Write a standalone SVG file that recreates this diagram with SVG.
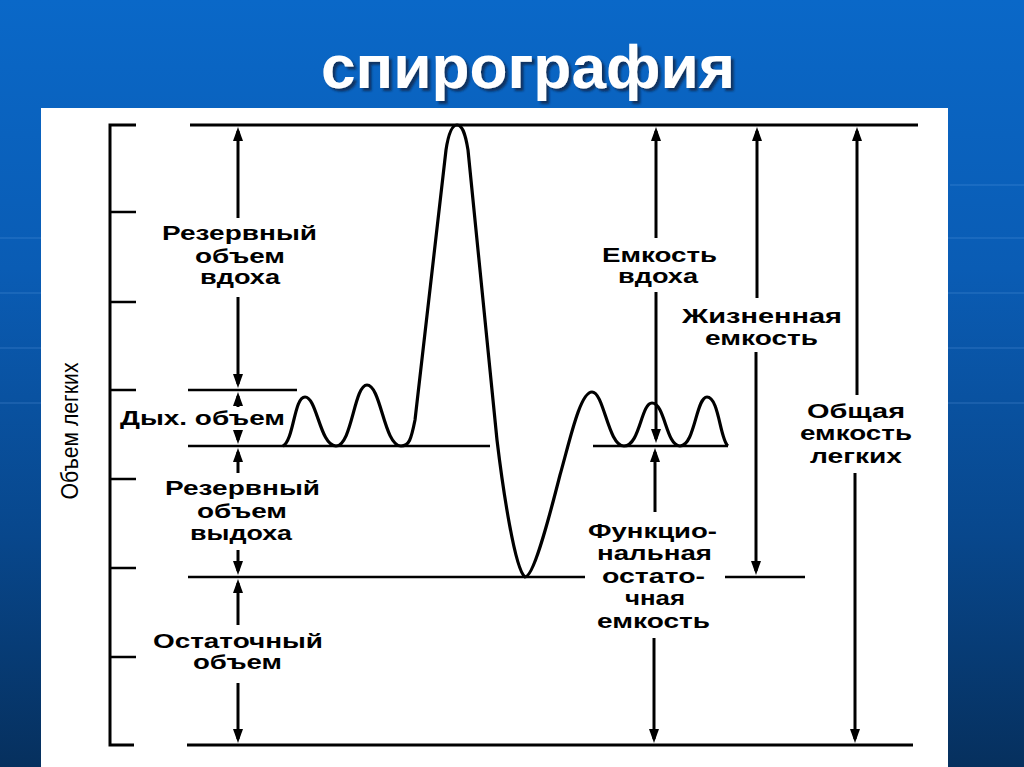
<svg xmlns="http://www.w3.org/2000/svg" width="1024" height="767" viewBox="0 0 1024 767">
<defs>
<linearGradient id="bg" x1="0" y1="0" x2="0" y2="1">
<stop offset="0" stop-color="#0a68c8"/>
<stop offset="0.35" stop-color="#0a5cb4"/>
<stop offset="0.7" stop-color="#08478c"/>
<stop offset="1" stop-color="#06305e"/>
</linearGradient>
<filter id="shadow" x="-5%" y="-20%" width="110%" height="140%">
<feDropShadow dx="3" dy="3" stdDeviation="1" flood-color="#0b2340" flood-opacity="0.75"/>
</filter>
<marker id="ah" viewBox="0 0 14 10" refX="10" refY="5" markerWidth="14" markerHeight="10" markerUnits="userSpaceOnUse" orient="auto">
<path d="M0,0 L14,5 L0,10 z" fill="#000"/>
</marker>
<style>
.lbl{font-family:"Liberation Sans",Arial,sans-serif;font-weight:bold;font-size:20px;fill:#000}
.ax{font-family:"Liberation Sans",Arial,sans-serif;font-size:23px;fill:#000}
.ln{stroke:#000;stroke-width:2.5;fill:none}
.ar{stroke:#000;stroke-width:3;fill:none;marker-end:url(#ah)}
.bgl{stroke:#6fa8e8;stroke-width:1.5;opacity:0.22}
</style>
</defs>
<rect x="0" y="0" width="1024" height="767" fill="url(#bg)"/>
<g id="bg-lines">
<line class="bgl" x1="0" y1="238" x2="1024" y2="238"/>
<line class="bgl" x1="0" y1="293" x2="1024" y2="293"/>
<line class="bgl" x1="0" y1="348" x2="1024" y2="348"/>
<line class="bgl" x1="0" y1="403" x2="1024" y2="403"/>
<line class="bgl" x1="950" y1="185" x2="1024" y2="185"/>
</g>
<g id="title">
<text x="528" y="88" text-anchor="middle" textLength="414" lengthAdjust="spacingAndGlyphs" filter="url(#shadow)" style="font-family:'Liberation Sans',Arial,sans-serif;font-weight:bold;font-size:62px;fill:#ffffff">спирография</text>
</g>
<rect id="panel" x="41" y="108" width="907" height="659" fill="#ffffff"/>
<g id="axis">
<path class="ln" style="stroke-width:3" d="M136,125 H110 V745 H134"/>
<path class="ln" d="M110,212 H136 M110,302 H136 M110,390 H136 M110,479 H136 M110,568 H136 M110,657 H136"/>
<text class="ax" transform="translate(78,431) rotate(-90)" text-anchor="middle" textLength="137" lengthAdjust="spacingAndGlyphs">Объем легких</text>
</g>
<g id="levels">
<line class="ln" style="stroke-width:3" x1="190" y1="125" x2="918" y2="125"/>
<line class="ln" x1="188" y1="390" x2="297" y2="390"/>
<line class="ln" x1="188" y1="446" x2="490" y2="446"/>
<line class="ln" x1="593" y1="446" x2="728" y2="446"/>
<line class="ln" x1="188" y1="577" x2="585" y2="577"/>
<line class="ln" x1="725" y1="577" x2="805" y2="577"/>
<line class="ln" style="stroke-width:3" x1="187" y1="745" x2="913" y2="745"/>
</g>
<g id="spirogram">
<path class="ln" style="stroke-width:3.2" d="M283,446 C294,440 294,397 305,397 C317,397 320,446 336,446 C352,446 354,385 367,385 C381,385 384,446 401,446 C409,446 411,440 415,420 L446,150 C449,130 453,125 457,125 C462,125 465,132 468,150 L497,440 C503,490 515,570 525,577 C533,577 546,530 560,475 C570,440 580,392 592,392 C604,392 608,446 624,446 C640,446 641,403 652,403 C665,403 666,446 680,446 C695,446 696,397 707,397 C719,397 720,440 728,446"/>
</g>
<g id="connectors">
<line class="ar" x1="238" y1="218" x2="238" y2="131"/>
<line class="ar" x1="238" y1="297" x2="238" y2="384"/>
<line class="ar" x1="238" y1="407" x2="238" y2="396"/>
<line class="ar" x1="238" y1="430" x2="238" y2="440"/>
<line class="ar" x1="238" y1="473" x2="238" y2="452"/>
<line class="ar" x1="238" y1="550" x2="238" y2="571"/>
<line class="ar" x1="238" y1="625" x2="238" y2="583"/>
<line class="ar" x1="238" y1="683" x2="238" y2="739"/>
<line class="ar" x1="656" y1="238" x2="656" y2="131"/>
<line class="ar" x1="656" y1="292" x2="656" y2="439"/>
<line class="ar" x1="655" y1="512" x2="655" y2="452"/>
<line class="ar" x1="654" y1="638" x2="654" y2="739"/>
<line class="ar" x1="757" y1="298" x2="757" y2="131"/>
<line class="ar" x1="756" y1="352" x2="756" y2="571"/>
<line class="ar" x1="857" y1="395" x2="857" y2="131"/>
<line class="ar" x1="855" y1="473" x2="855" y2="739"/>
</g>
<g id="label-irv">
<text class="lbl" x="162" y="240" textLength="155" lengthAdjust="spacingAndGlyphs">Резервный</text>
<text class="lbl" x="195" y="263" textLength="90" lengthAdjust="spacingAndGlyphs">объем</text>
<text class="lbl" x="200" y="284" textLength="80" lengthAdjust="spacingAndGlyphs">вдоха</text>
</g>
<g id="label-tv">
<text class="lbl" x="120" y="425" textLength="165" lengthAdjust="spacingAndGlyphs">Дых. объем</text>
</g>
<g id="label-erv">
<text class="lbl" x="165" y="495" textLength="155" lengthAdjust="spacingAndGlyphs">Резервный</text>
<text class="lbl" x="197" y="518" textLength="90" lengthAdjust="spacingAndGlyphs">объем</text>
<text class="lbl" x="190" y="540" textLength="102" lengthAdjust="spacingAndGlyphs">выдоха</text>
</g>
<g id="label-rv">
<text class="lbl" x="153" y="648" textLength="170" lengthAdjust="spacingAndGlyphs">Остаточный</text>
<text class="lbl" x="193" y="669" textLength="89" lengthAdjust="spacingAndGlyphs">объем</text>
</g>
<g id="label-ic">
<text class="lbl" x="602" y="262" textLength="115" lengthAdjust="spacingAndGlyphs">Емкость</text>
<text class="lbl" x="618" y="283" textLength="80" lengthAdjust="spacingAndGlyphs">вдоха</text>
</g>
<g id="label-vc">
<text class="lbl" x="682" y="323" textLength="160" lengthAdjust="spacingAndGlyphs">Жизненная</text>
<text class="lbl" x="705" y="345" textLength="113" lengthAdjust="spacingAndGlyphs">емкость</text>
</g>
<g id="label-tlc">
<text class="lbl" x="807" y="418" textLength="98" lengthAdjust="spacingAndGlyphs">Общая</text>
<text class="lbl" x="800" y="440" textLength="112" lengthAdjust="spacingAndGlyphs">емкость</text>
<text class="lbl" x="810" y="463" textLength="92" lengthAdjust="spacingAndGlyphs">легких</text>
</g>
<g id="label-frc">
<text class="lbl" x="588" y="538" textLength="129" lengthAdjust="spacingAndGlyphs">Функцио-</text>
<text class="lbl" x="597" y="560" textLength="115" lengthAdjust="spacingAndGlyphs">нальная</text>
<text class="lbl" x="602" y="583" textLength="103" lengthAdjust="spacingAndGlyphs">остато-</text>
<text class="lbl" x="625" y="605" textLength="60" lengthAdjust="spacingAndGlyphs">чная</text>
<text class="lbl" x="597" y="628" textLength="113" lengthAdjust="spacingAndGlyphs">емкость</text>
</g>
</svg>
